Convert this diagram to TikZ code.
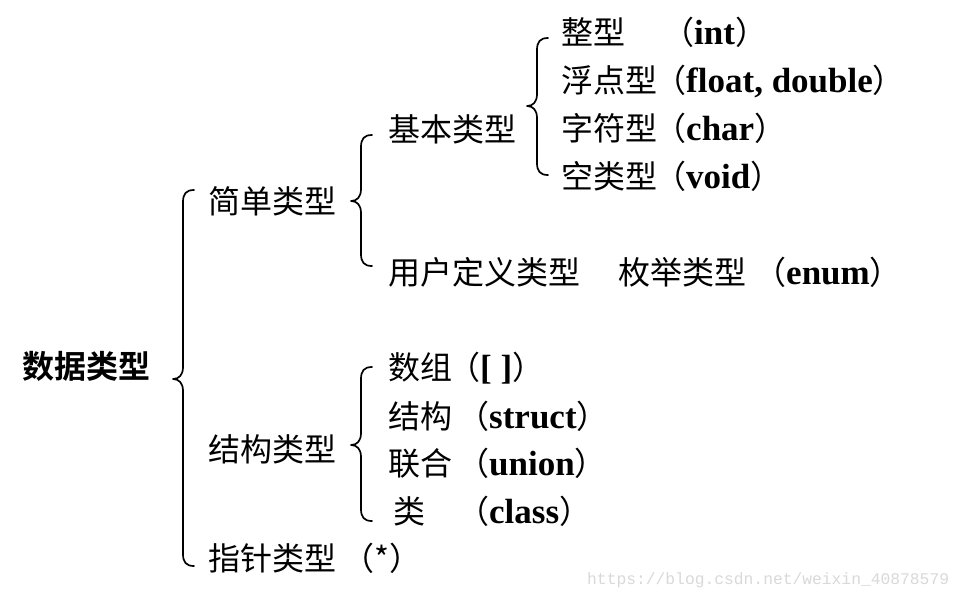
\documentclass[tikz,border=0pt]{standalone}
\usepackage{fontspec}
\setmainfont{Noto Sans CJK SC}
\newfontfamily\cjkb{Noto Sans CJK SC Bold}
\newfontfamily\latb{Liberation Serif Bold}
\newfontfamily\wmfont{Liberation Mono}
\newcommand\la[1]{{\latb\fontsize{35}{40}\selectfont #1}}
\newcommand\bracepath[4]{% x, top, tip, bottom
  \draw[brc] (#1+11,#2) .. controls (#1+3,#2) and (#1,#2+4) .. (#1,#2+12)
    -- (#1,#3-12) .. controls (#1,#3-4) and (#1-4,#3) .. (#1-10,#3)
    .. controls (#1-4,#3) and (#1,#3+4) .. (#1,#3+12)
    -- (#1,#4-12) .. controls (#1,#4-4) and (#1+3,#4) .. (#1+11,#4);}
\tikzset{
  zh/.style={inner sep=0pt, anchor=base west, font=\fontsize{32}{38}\selectfont},
  brc/.style={line width=1.7pt, line cap=round, line join=round},
  wm/.style={inner sep=0pt, anchor=base west, text=black!15, font=\wmfont\fontsize{16.3}{20}\selectfont},
}
\begin{document}
\begin{tikzpicture}[x=1pt,y=-1pt]
\useasboundingbox[fill=white] (0,0) rectangle (968,598);
% level 0
\node[zh] (root) at (22,378) {\cjkb 数据类型};
\bracepath{183}{190}{379}{566}
% level 1
\node[zh] (simple) at (208,213) {简单类型};
\node[zh] (structt) at (208,461) {结构类型};
\node[zh] (ptr) at (208,570) {指针类型};
\node[zh] (ptrp) at (342,570) {（*）};
\bracepath{361}{135}{201}{266}
\bracepath{361}{367}{445}{521}
% level 2 (simple)
\node[zh] (basic) at (388,141) {基本类型};
\node[zh] (user) at (388,284) {用户定义类型};
\node[zh] (enum) at (618,284) {枚举类型};
\node[zh] (enump) at (754,284) {（\la{enum}）};
\bracepath{537}{38}{106}{175}
% level 3 (basic)
\node[zh] (int) at (561,44) {整型};
\node[zh] (intp) at (662,44) {（\la{int}）};
\node[zh] (flt) at (561,92) {浮点型};
\node[zh] (fltp) at (654,92) {（\la{float, double}）};
\node[zh] (chr) at (561,140) {字符型};
\node[zh] (chrp) at (654,140) {（\la{char}）};
\node[zh] (vd) at (561,188) {空类型};
\node[zh] (vdp) at (654,188) {（\la{void}）};
% level 2 (struct)
\node[zh] (arr) at (388,379) {数组};
\node[zh] (arrp) at (448,379) {（\la{[ ]}）};
\node[zh] (st) at (388,428) {结构};
\node[zh] (stp) at (457,428) {（\la{struct}）};
\node[zh] (un) at (388,475) {联合};
\node[zh] (unp) at (457,475) {（\la{union}）};
\node[zh] (cls) at (393,523) {类};
\node[zh] (clsp) at (457,523) {（\la{class}）};
% watermark
\node[wm] (mark) at (587,584) {https://blog.csdn.net/weixin\_40878579};
\end{tikzpicture}
\end{document}
